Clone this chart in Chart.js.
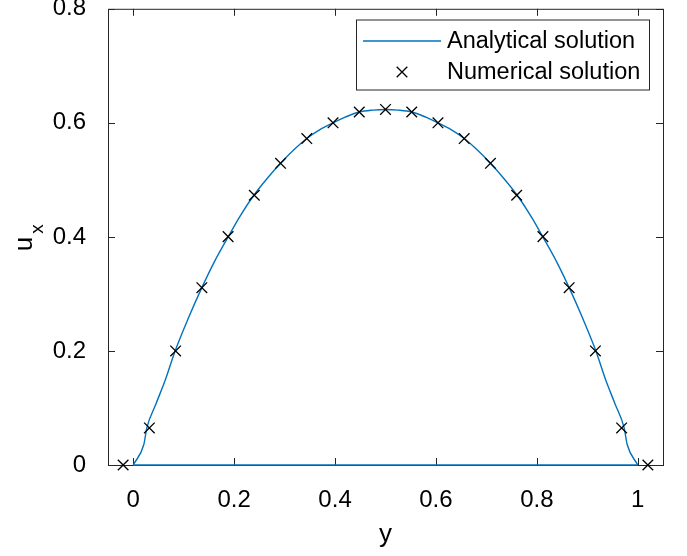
<!DOCTYPE html>
<html>
<head>
<meta charset="utf-8">
<script src="https://cdn.jsdelivr.net/npm/chart.js@4.4.1/dist/chart.umd.min.js"></script>
<style>
  html, body { margin: 0; padding: 0; background: #fff; }
</style>
</head>
<body>
<canvas id="plot" width="687" height="556"></canvas>
<script>
// analytical curve
const analyticX = [0, 0.021, 0.027, 0.045, 0.0635, 0.083, 0.11, 0.136, 0.16, 0.1885, 0.21, 0.239, 0.265, 0.292, 0.32, 0.344, 0.37, 0.396, 0.42, 0.448, 0.475, 0.5,
  0.525, 0.552, 0.58, 0.604, 0.63, 0.656, 0.68, 0.708, 0.735, 0.761, 0.79, 0.8115, 0.84, 0.864, 0.89, 0.917, 0.9365, 0.955, 0.973, 0.979, 1]
const analyticY = [0, 0.036, 0.065, 0.107, 0.149, 0.2, 0.259, 0.311, 0.355, 0.4005, 0.434, 0.473, 0.502, 0.529, 0.554, 0.5725, 0.588, 0.6, 0.61, 0.619, 0.6223, 0.6235,
  0.6223, 0.619, 0.61, 0.6, 0.588, 0.5725, 0.554, 0.529, 0.502, 0.473, 0.434, 0.4005, 0.355, 0.311, 0.259, 0.2, 0.149, 0.107, 0.065, 0.036, 0]

// the flat part of the analytical line along u_x = 0
const baseX = [0, 1]
const baseY = [0, 0]

// numerical solution (crosses)
const numericX = [-0.02, 0.032, 0.084, 0.136, 0.188, 0.24, 0.292, 0.344, 0.396, 0.448, 0.5, 0.552, 0.604, 0.656, 0.708, 0.76, 0.812, 0.864, 0.916, 0.968, 1.02]
const numericY = [0, 0.065, 0.2, 0.311, 0.4005, 0.473, 0.529, 0.5725, 0.6, 0.619, 0.6235, 0.619, 0.6, 0.5725, 0.529, 0.473, 0.4005, 0.311, 0.2, 0.065, 0]

const xTicks = [0, 0.2, 0.4, 0.6, 0.8, 1]
const yTicks = [0, 0.2, 0.4, 0.6, 0.8]

const legendLabels = ['Analytical solution', 'Numerical solution']

const BLUE = '#0072BD'
const AXIS = '#262626'
const FONT = '"Liberation Sans", Arial, Helvetica, sans-serif'

const toPts = (xs, ys) => xs.map((x, i) => ({x, y: ys[i]}))

// box, inward ticks, axis titles
const frame = {
  id: 'frame',
  beforeDatasetsDraw(chart) {
    const {ctx, chartArea: a, scales} = chart
    ctx.save()
    ctx.strokeStyle = AXIS
    ctx.lineWidth = 1
    ctx.strokeRect(a.left + 0.5, a.top + 0.5, a.right - a.left, a.bottom - a.top)
    const len = 7
    ctx.beginPath()
    scales.x.ticks.forEach(t => {
      const px = Math.round(scales.x.getPixelForValue(t.value)) + 0.5
      ctx.moveTo(px, a.bottom); ctx.lineTo(px, a.bottom - len)
      ctx.moveTo(px, a.top); ctx.lineTo(px, a.top + len)
    })
    scales.y.ticks.forEach(t => {
      const py = Math.round(scales.y.getPixelForValue(t.value)) + 0.5
      ctx.moveTo(a.left, py); ctx.lineTo(a.left + len, py)
      ctx.moveTo(a.right, py); ctx.lineTo(a.right - len, py)
    })
    ctx.stroke()
    ctx.restore()
  },
  afterDraw(chart) {
    const {ctx, chartArea: a} = chart
    ctx.save()
    ctx.fillStyle = '#000'
    // x title
    ctx.font = '26px ' + FONT
    ctx.textAlign = 'center'
    ctx.textBaseline = 'alphabetic'
    ctx.fillText('y', (a.left + a.right) / 2, 542)
    // y title: u with subscript x
    ctx.rotate(-Math.PI / 2)
    ctx.fillText('u', -244, 32)
    ctx.font = '19px ' + FONT
    ctx.fillText('x', -229, 43)
    ctx.restore()

    // legend
    const bx = 356, by = 19.5, bw = 293, bh = 70
    ctx.save()
    ctx.fillStyle = '#fff'
    ctx.fillRect(bx, by, bw, bh)
    ctx.strokeStyle = AXIS
    ctx.lineWidth = 1
    ctx.strokeRect(bx + 0.5, by + 0.5, bw, bh)
    const rows = [41, 72]
    ctx.strokeStyle = BLUE
    ctx.lineWidth = 1.3
    ctx.beginPath(); ctx.moveTo(363, rows[0]); ctx.lineTo(441, rows[0]); ctx.stroke()
    ctx.strokeStyle = '#000'
    const cx = 402, cy = rows[1], r = 5.3
    ctx.beginPath()
    ctx.moveTo(cx - r, cy - r); ctx.lineTo(cx + r, cy + r)
    ctx.moveTo(cx - r, cy + r); ctx.lineTo(cx + r, cy - r)
    ctx.stroke()
    ctx.fillStyle = '#000'
    ctx.font = '23.5px ' + FONT
    ctx.textAlign = 'left'
    ctx.textBaseline = 'middle'
    legendLabels.forEach((lab, i) => ctx.fillText(lab, 447, rows[i] + 1))
    ctx.restore()
  }
}

new Chart(document.getElementById('plot'), {
  type: 'line',
  data: {
    datasets: [
      {
        label: legendLabels[1],
        data: toPts(numericX, numericY),
        showLine: false,
        pointStyle: 'crossRot',
        pointRadius: 7.5,
        pointBorderColor: '#000',
        pointBorderWidth: 1.3,
        borderColor: '#000',
        clip: false
      },
      {
        label: legendLabels[0],
        data: toPts(analyticX, analyticY),
        borderColor: BLUE,
        borderWidth: 1.4,
        pointRadius: 0,
        cubicInterpolationMode: 'monotone',
        fill: false,
        clip: false
      },
      {
        label: '',
        data: toPts(baseX, baseY),
        borderColor: BLUE,
        borderWidth: 1.4,
        pointRadius: 0,
        fill: false,
        clip: false
      }
    ]
  },
  options: {
    responsive: false,
    animation: false,
    layout: {padding: {left: 0, top: 5, right: 24, bottom: 0}},
    plugins: {legend: {display: false}, tooltip: {enabled: false}},
    scales: {
      x: {
        type: 'linear',
        min: -0.05,
        max: 1.05,
        grid: {display: false},
        border: {display: false},
        afterBuildTicks: s => { s.ticks = xTicks.map(v => ({value: v})) },
        afterFit: s => { s.height = 91; s.paddingLeft = 0; s.paddingRight = 0 },
        ticks: {
          padding: 13,
          color: '#000',
          font: {family: FONT, size: 24},
          callback: v => String(v)
        }
      },
      y: {
        min: 0,
        max: 0.8,
        grid: {display: false},
        border: {display: false},
        afterBuildTicks: s => { s.ticks = yTicks.map(v => ({value: v})) },
        afterFit: s => { s.width = 108; s.paddingTop = 0; s.paddingBottom = 0 },
        ticks: {
          padding: 14,
          color: '#000',
          font: {family: FONT, size: 24},
          callback: v => String(v)
        }
      }
    }
  },
  plugins: [frame]
})
</script>
</body>
</html>
